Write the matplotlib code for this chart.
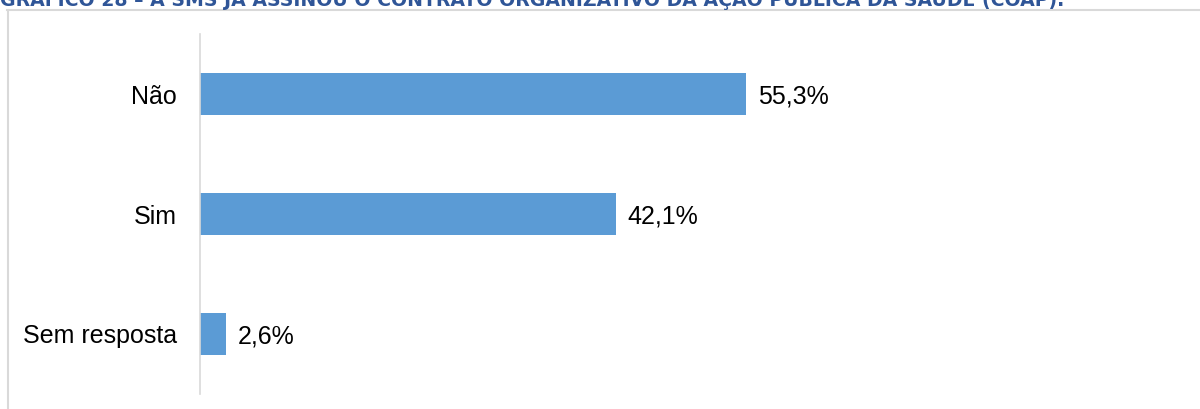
import matplotlib.pyplot as plt
from matplotlib.lines import Line2D

categorias = ['Não', 'Sim', 'Sem resposta']
valores = [55.3, 42.1, 2.6]
rotulos = ['55,3%', '42,1%', '2,6%']
titulo = 'GRÁFICO 28 – A SMS JÁ ASSINOU O CONTRATO ORGANIZATIVO DA AÇÃO PÚBLICA DA SAÚDE (COAP).'

W, H = 1200, 409
fig = plt.figure(figsize=(W / 100, H / 100), dpi=100)
fig.patch.set_facecolor('white')

# moldura cinza do gráfico
fig.add_artist(Line2D([7 / W, 1], [1 - 9.5 / H] * 2, color='#D9D9D9', lw=1.5))
fig.add_artist(Line2D([7.5 / W] * 2, [0, 1 - 9.5 / H], color='#D9D9D9', lw=1.5))

# título (cortado no topo)
fig.text(0.0, 1 - 6.5 / H, titulo, fontsize=13.6, fontweight='bold',
         color='#2F5597', family='DejaVu Sans', va='baseline', ha='left')

ax = fig.add_axes([200 / W, 15 / H, 987 / W, 360 / H])
barras = ax.barh(categorias, valores, height=0.35, color='#5B9BD5')
textos = ax.bar_label(barras, labels=rotulos, padding=8.6, fontsize=18,
                      family='Liberation Sans', color='#000000')
for t in textos:
    t.set_va('center_baseline')

ax.set_xlim(0, 100)
ax.set_ylim(2.5, -0.5)
ax.set_xticks([])
ax.tick_params(axis='y', length=0, pad=16.5, labelsize=18)
for lbl in ax.get_yticklabels():
    lbl.set_family('Liberation Sans')

for s in ['top', 'right', 'bottom']:
    ax.spines[s].set_visible(False)
ax.spines['left'].set_color('#D9D9D9')
ax.spines['left'].set_linewidth(1.2)

fig.savefig('out.png', dpi=100)
